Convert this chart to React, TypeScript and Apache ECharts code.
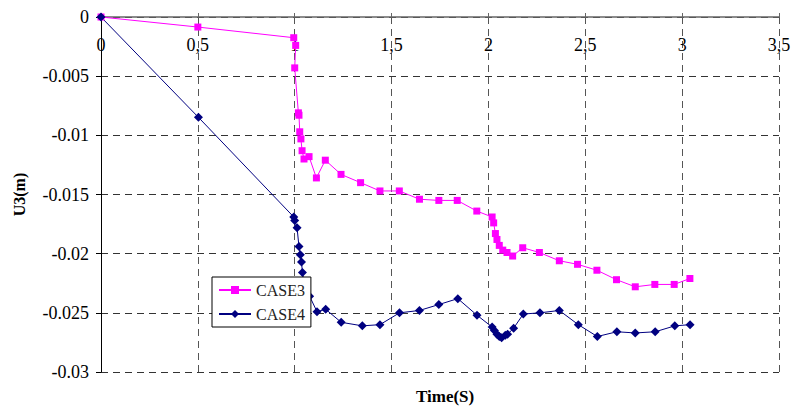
import React, { useEffect, useRef } from "react";
import * as echarts from "echarts";

const xTicks = [0, 0.5, 1, 1.5, 2, 2.5, 3, 3.5];
const yTicks = [0, -0.005, -0.01, -0.015, -0.02, -0.025, -0.03];

const case3Time = [0, 0.5, 0.995, 1.005, 1.0, 1.019, 1.022, 1.026, 1.032, 1.038, 1.048, 1.074, 1.112, 1.158, 1.239, 1.34, 1.44, 1.54, 1.644, 1.744, 1.839, 1.94, 2.019, 2.027, 2.036, 2.044, 2.056, 2.074, 2.096, 2.125, 2.177, 2.263, 2.366, 2.46, 2.56, 2.661, 2.758, 2.859, 2.959, 3.04];
const case3U = [0, -0.00085, -0.00175, -0.0024, -0.0043, -0.0081, -0.0083, -0.0097, -0.0103, -0.0113, -0.012, -0.0118, -0.0136, -0.0121, -0.0133, -0.014, -0.0147, -0.0147, -0.0154, -0.0155, -0.0155, -0.0164, -0.0169, -0.0174, -0.0183, -0.0188, -0.0193, -0.0197, -0.0199, -0.0202, -0.0195, -0.0199, -0.0206, -0.0209, -0.0214, -0.0222, -0.0228, -0.0226, -0.0226, -0.0221];

const case4Time = [0, 0.503, 0.995, 1.0, 1.012, 1.022, 1.029, 1.035, 1.04, 1.052, 1.077, 1.115, 1.16, 1.24, 1.349, 1.44, 1.541, 1.644, 1.744, 1.842, 1.941, 2.019, 2.031, 2.044, 2.056, 2.068, 2.087, 2.099, 2.13, 2.18, 2.266, 2.366, 2.464, 2.562, 2.663, 2.758, 2.861, 2.962, 3.041];
const case4U = [0, -0.00848, -0.0169, -0.0172, -0.0178, -0.0194, -0.0201, -0.0207, -0.0216, -0.0228, -0.0236, -0.0249, -0.0247, -0.0258, -0.0261, -0.026, -0.025, -0.0248, -0.0243, -0.0238, -0.0252, -0.0262, -0.0265, -0.0268, -0.027, -0.0271, -0.0269, -0.0268, -0.0263, -0.0251, -0.025, -0.0248, -0.026, -0.027, -0.0266, -0.0267, -0.0266, -0.0261, -0.026];

const FONT = "'Liberation Serif', 'Times New Roman', 'DejaVu Serif', serif";

export default function App() {
  const ref = useRef<HTMLDivElement>(null);
  useEffect(() => {
    if (!ref.current) return;
    const chart = echarts.init(ref.current, undefined, { renderer: "svg" });
    const c3 = case3Time.map((t, i) => [t, case3U[i]]);
    const c4 = case4Time.map((t, i) => [t, case4U[i]]);
    chart.setOption({
      animation: false,
      backgroundColor: "#ffffff",
      textStyle: { fontFamily: FONT },
      grid: { left: 101, top: 17, right: 16, bottom: 37 },
      xAxis: {
        type: "value",
        position: "top",
        min: xTicks[0],
        max: xTicks[xTicks.length - 1],
        interval: 0.5,
        axisLine: { show: true, onZero: false, lineStyle: { color: "#666666", width: 1.5 } },
        axisTick: { show: true, length: 4, lineStyle: { color: "#666666" } },
        axisLabel: {
          inside: true,
          margin: 19,
          fontFamily: FONT,
          fontSize: 18,
          color: "#000",
          formatter: (v: number) => String(v).replace(".", ","),
        },
        splitLine: { show: true, lineStyle: { color: "#555555", type: [7, 5], width: 1 } },
      },
      yAxis: {
        type: "value",
        min: yTicks[yTicks.length - 1],
        max: yTicks[0],
        interval: 0.005,
        name: "U3(m)",
        nameLocation: "middle",
        nameGap: 74,
        nameTextStyle: { fontFamily: FONT, fontSize: 16, fontWeight: "bold", color: "#000" },
        axisLine: { show: true, onZero: false, lineStyle: { color: "#000", width: 1 } },
        axisTick: { show: true, length: 5, lineStyle: { color: "#000" } },
        axisLabel: {
          margin: 12,
          fontFamily: FONT,
          fontSize: 18,
          color: "#000",
          formatter: (v: number) => String(+v.toFixed(3)),
        },
        splitLine: { show: true, lineStyle: { color: "#333333", type: [7, 5], width: 1 } },
      },
      legend: {
        orient: "vertical",
        left: 212,
        top: 277,
        backgroundColor: "#ffffff",
        borderColor: "#000",
        borderWidth: 1,
        borderRadius: 0,
        padding: [5, 6],
        itemGap: 8,
        itemWidth: 32,
        itemHeight: 10,
        textStyle: { fontFamily: FONT, fontSize: 16, color: "#222" },
        data: ["CASE3", "CASE4"],
        z: 10,
      },
      graphic: [
        {
          type: "text",
          left: 446 - 30,
          top: 388,
          style: { text: "Time(S)", fontFamily: FONT, fontSize: 17, fontWeight: "bold", fill: "#000" },
        },
      ],
      series: [
        {
          name: "CASE3",
          type: "line",
          data: c3,
          symbol: "rect",
          symbolSize: 7,
          lineStyle: { color: "#ff00ff", width: 1 },
          itemStyle: { color: "#ff00ff" },
        },
        {
          name: "CASE4",
          type: "line",
          data: c4,
          symbol: "diamond",
          symbolSize: 9,
          lineStyle: { color: "#000080", width: 1 },
          itemStyle: { color: "#000080" },
        },
      ],
    });
    return () => chart.dispose();
  }, []);
  return (
    <div
      ref={ref}
      style={{ position: "fixed", left: 0, top: 0, width: 795, height: 409 }}
    />
  );
}
